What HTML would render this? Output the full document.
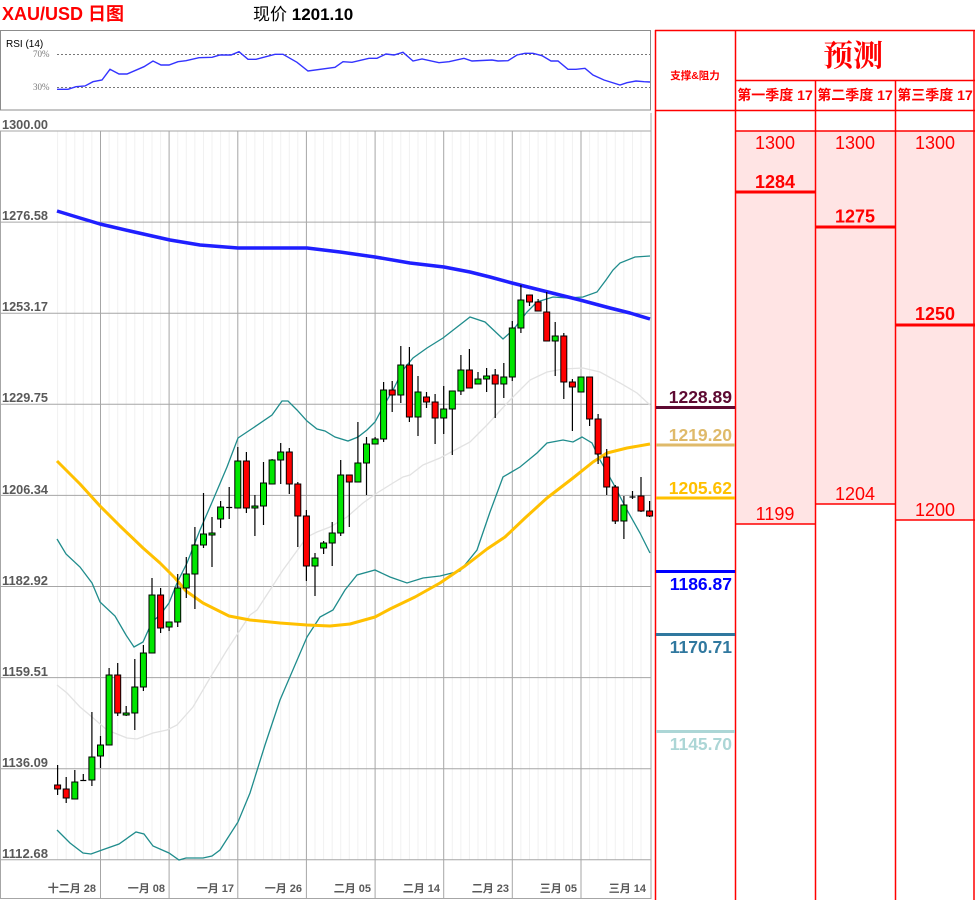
<!DOCTYPE html>
<html><head><meta charset="utf-8"><style>
html,body{margin:0;padding:0;background:#fff;}
svg{display:block;}
.g{fill:#00e600;stroke:#000;stroke-width:1}
.r{fill:#ff0000;stroke:#000;stroke-width:1}
.w line{stroke:#000;stroke-width:1.2}
.yl{font-family:"Liberation Sans",sans-serif;font-size:13px;font-weight:bold;fill:#595959}
.xl{font-family:"Liberation Sans","Noto Sans CJK SC",sans-serif;font-size:11px;font-weight:bold;fill:#595959}
.sr{font-family:"Liberation Sans",sans-serif;font-size:17.5px;font-weight:bold;text-anchor:end}
.fc{font-family:"Liberation Sans",sans-serif;font-size:18px;fill:#ff0000;text-anchor:middle}
.fb{font-family:"Liberation Sans",sans-serif;font-size:18px;font-weight:bold;fill:#ff0000;text-anchor:middle}
.qh{font-family:"Liberation Sans","Noto Sans CJK SC",sans-serif;font-size:14px;font-weight:bold;fill:#ff0000;text-anchor:middle}
</style></head><body>
<svg width="975" height="900" viewBox="0 0 975 900" xmlns="http://www.w3.org/2000/svg">
<rect width="975" height="900" fill="#fff"/>

<!-- Header -->
<text x="2" y="20" font-family="Liberation Sans,'Noto Sans CJK SC',sans-serif" font-size="18" font-weight="bold" fill="#ff0000">XAU/USD 日图</text>
<text x="253" y="20" font-family="Liberation Sans,'Noto Sans CJK SC',sans-serif" font-size="17" fill="#000">现价 <tspan font-weight="bold">1201.10</tspan></text>

<!-- RSI panel -->
<rect x="0.5" y="30.5" width="650" height="79.5" fill="#fff" stroke="#8c8c8c" stroke-width="1"/>
<text x="6" y="47" font-family="Liberation Sans,sans-serif" font-size="10" fill="#000">RSI (14)</text>
<text x="33" y="57" font-family="Liberation Serif,serif" font-size="9" fill="#777">70%</text>
<text x="33" y="90" font-family="Liberation Serif,serif" font-size="9" fill="#777">30%</text>
<line x1="57" y1="54.5" x2="650" y2="54.5" stroke="#777" stroke-width="1" stroke-dasharray="2,2"/>
<line x1="57" y1="87.5" x2="650" y2="87.5" stroke="#777" stroke-width="1" stroke-dasharray="2,2"/>
<polyline fill="none" stroke="#3333ff" stroke-width="1.4" points="57,89.3 68,89.3 76,86.7 85,86 93,81.7 102,80 110,69.3 119,74 127,74 144,66.7 153,61 161,65 169,65 178,61.7 186,60.7 199,57.7 212,57.3 220,55 231,55 239,51.7 248,59.3 256,59.3 275,54.3 283,54.3 297,62.3 308,71 335,67.3 343,61.7 352,62.3 369,58.3 377,58.3 386,54 394,55 403,52.3 413,61 422,59 439,62.7 449,61.7 464,58.3 472,61 492,60 498,61 508,60.7 517,55 525,53.3 533,53.3 542,55.7 551,61 558,61 568,69.3 576,69.3 585,68.3 593,75 604,80 620,85 627,82.7 636,81 644,81.7 650,82"/>

<!-- minor vertical lines -->
<g stroke="#f1f1f1" stroke-width="1">
<line x1="57.6" y1="131" x2="57.6" y2="860"/><line x1="66.2" y1="131" x2="66.2" y2="860"/><line x1="74.8" y1="131" x2="74.8" y2="860"/><line x1="83.3" y1="131" x2="83.3" y2="860"/><line x1="91.9" y1="131" x2="91.9" y2="860"/>
<line x1="109.1" y1="131" x2="109.1" y2="860"/><line x1="117.7" y1="131" x2="117.7" y2="860"/><line x1="126.2" y1="131" x2="126.2" y2="860"/><line x1="134.8" y1="131" x2="134.8" y2="860"/><line x1="143.4" y1="131" x2="143.4" y2="860"/><line x1="152" y1="131" x2="152" y2="860"/><line x1="160.6" y1="131" x2="160.6" y2="860"/>
<line x1="177.7" y1="131" x2="177.7" y2="860"/><line x1="186.3" y1="131" x2="186.3" y2="860"/><line x1="194.9" y1="131" x2="194.9" y2="860"/><line x1="203.5" y1="131" x2="203.5" y2="860"/><line x1="212" y1="131" x2="212" y2="860"/><line x1="220.6" y1="131" x2="220.6" y2="860"/><line x1="229.2" y1="131" x2="229.2" y2="860"/>
<line x1="246.4" y1="131" x2="246.4" y2="860"/><line x1="254.9" y1="131" x2="254.9" y2="860"/><line x1="263.5" y1="131" x2="263.5" y2="860"/><line x1="272.1" y1="131" x2="272.1" y2="860"/><line x1="280.7" y1="131" x2="280.7" y2="860"/><line x1="289.3" y1="131" x2="289.3" y2="860"/><line x1="297.8" y1="131" x2="297.8" y2="860"/>
<line x1="315" y1="131" x2="315" y2="860"/><line x1="323.6" y1="131" x2="323.6" y2="860"/><line x1="332.2" y1="131" x2="332.2" y2="860"/><line x1="340.7" y1="131" x2="340.7" y2="860"/><line x1="349.3" y1="131" x2="349.3" y2="860"/><line x1="357.9" y1="131" x2="357.9" y2="860"/><line x1="366.5" y1="131" x2="366.5" y2="860"/>
<line x1="383.6" y1="131" x2="383.6" y2="860"/><line x1="392.2" y1="131" x2="392.2" y2="860"/><line x1="400.8" y1="131" x2="400.8" y2="860"/><line x1="409.4" y1="131" x2="409.4" y2="860"/><line x1="418" y1="131" x2="418" y2="860"/><line x1="426.5" y1="131" x2="426.5" y2="860"/><line x1="435.1" y1="131" x2="435.1" y2="860"/>
<line x1="452.3" y1="131" x2="452.3" y2="860"/><line x1="460.9" y1="131" x2="460.9" y2="860"/><line x1="469.4" y1="131" x2="469.4" y2="860"/><line x1="478" y1="131" x2="478" y2="860"/><line x1="486.6" y1="131" x2="486.6" y2="860"/><line x1="495.2" y1="131" x2="495.2" y2="860"/><line x1="503.8" y1="131" x2="503.8" y2="860"/>
<line x1="520.9" y1="131" x2="520.9" y2="860"/><line x1="529.5" y1="131" x2="529.5" y2="860"/><line x1="538.1" y1="131" x2="538.1" y2="860"/><line x1="546.7" y1="131" x2="546.7" y2="860"/><line x1="555.2" y1="131" x2="555.2" y2="860"/><line x1="563.8" y1="131" x2="563.8" y2="860"/><line x1="572.4" y1="131" x2="572.4" y2="860"/>
<line x1="589.6" y1="131" x2="589.6" y2="860"/><line x1="598.1" y1="131" x2="598.1" y2="860"/><line x1="606.7" y1="131" x2="606.7" y2="860"/><line x1="615.3" y1="131" x2="615.3" y2="860"/><line x1="623.9" y1="131" x2="623.9" y2="860"/><line x1="632.5" y1="131" x2="632.5" y2="860"/><line x1="641" y1="131" x2="641" y2="860"/>
</g>

<!-- major gridlines -->
<g stroke="#a6a6a6" stroke-width="1">
<line x1="0" y1="131" x2="651" y2="131"/>
<line x1="0" y1="222.1" x2="651" y2="222.1"/>
<line x1="0" y1="313.2" x2="651" y2="313.2"/>
<line x1="0" y1="404.3" x2="651" y2="404.3"/>
<line x1="0" y1="495.4" x2="651" y2="495.4"/>
<line x1="0" y1="586.5" x2="651" y2="586.5"/>
<line x1="0" y1="677.6" x2="651" y2="677.6"/>
<line x1="0" y1="768.7" x2="651" y2="768.7"/>
<line x1="0" y1="859.8" x2="651" y2="859.8"/>
<line x1="100.5" y1="131" x2="100.5" y2="899"/>
<line x1="169.1" y1="131" x2="169.1" y2="899"/>
<line x1="237.8" y1="131" x2="237.8" y2="899"/>
<line x1="306.4" y1="131" x2="306.4" y2="899"/>
<line x1="375.1" y1="131" x2="375.1" y2="899"/>
<line x1="443.7" y1="131" x2="443.7" y2="899"/>
<line x1="512.3" y1="131" x2="512.3" y2="899"/>
<line x1="581" y1="131" x2="581" y2="899"/>
<line x1="0.5" y1="131" x2="0.5" y2="899"/>
<line x1="651" y1="113" x2="651" y2="899"/>
<line x1="0" y1="898.5" x2="651" y2="898.5"/>
</g>

<!-- y labels -->
<text class="yl" x="2" y="129" textLength="46" lengthAdjust="spacingAndGlyphs">1300.00</text>
<text class="yl" x="2" y="220" textLength="46" lengthAdjust="spacingAndGlyphs">1276.58</text>
<text class="yl" x="2" y="311" textLength="46" lengthAdjust="spacingAndGlyphs">1253.17</text>
<text class="yl" x="2" y="402" textLength="46" lengthAdjust="spacingAndGlyphs">1229.75</text>
<text class="yl" x="2" y="494" textLength="46" lengthAdjust="spacingAndGlyphs">1206.34</text>
<text class="yl" x="2" y="585" textLength="46" lengthAdjust="spacingAndGlyphs">1182.92</text>
<text class="yl" x="2" y="676" textLength="46" lengthAdjust="spacingAndGlyphs">1159.51</text>
<text class="yl" x="2" y="767" textLength="46" lengthAdjust="spacingAndGlyphs">1136.09</text>
<text class="yl" x="2" y="858" textLength="46" lengthAdjust="spacingAndGlyphs">1112.68</text>

<!-- x labels -->
<g class="xl" text-anchor="end">
<text x="96" y="892">十二月 28</text>
<text x="165" y="892">一月 08</text>
<text x="234" y="892">一月 17</text>
<text x="302" y="892">一月 26</text>
<text x="371" y="892">二月 05</text>
<text x="440" y="892">二月 14</text>
<text x="509" y="892">二月 23</text>
<text x="577" y="892">三月 05</text>
<text x="646" y="892">三月 14</text>
</g>

<!-- Bollinger middle -->
<polyline fill="none" stroke="#e2e2e2" stroke-width="1.3" points="57,685 67,693 80,707 92,717 107,730 127,738 137,739 153,733 167,730 177,725 193,707 210,678 227,650 250,615 257,610 283,570 307,537 317,532 330,527 347,517 363,503 377,493 393,483 403,477 410,475 423,465 440,458 470,442 487,425 510,400 530,380 547,372 563,369 583,368 600,372 620,383 637,393 650,405"/>
<!-- Bollinger upper -->
<polyline fill="none" stroke="#1f8c8c" stroke-width="1.3" points="57,539 66,554 80,567 92,583 100,602 115,616 126,635 134,647 143,642 152,622 160,615 169,603 177,583 187,563 200,530 213,500 227,467 238,438 253,428 272,415 282,401 288,401 297,410 307,421 317,429 325,431 335,437 348,441 358,437 367,430 375,422 383,407 393,390 403,370 413,358 427,348 443,338 470,317 485,322 503,339 513,330 527,312 537,302 553,297 567,298 583,297 597,292 606,280 613,270 620,263 635,257 650,256"/>
<!-- Bollinger lower -->
<polyline fill="none" stroke="#1f8c8c" stroke-width="1.3" points="57,830 70,843 83,853 91,854 102,850 119,844 136,832 144,834 153,846 169,853 179,860 186,858 203,858 212,856 220,850 238,822 250,793 265,745 280,700 295,665 307,637 320,617 333,610 345,590 357,575 375,570 390,577 407,583 423,578 440,576 460,571 477,550 490,512 503,477 520,467 537,453 547,443 563,440 573,442 582,437 592,443 600,460 613,483 627,510 640,533 650,553"/>
<!-- MA blue -->
<polyline fill="none" stroke="#1f1fff" stroke-width="3.5" stroke-linejoin="round" points="57,211 80,218 100,224 130,231 170,240 200,245 238,248 270,248 307,248 340,252 375,257 410,263 444,267 470,272 490,277 512,283 540,290 560,295 580,300 610,308 630,313 650,319"/>
<!-- MA gold -->
<polyline fill="none" stroke="#ffc000" stroke-width="3" stroke-linejoin="round" points="57,461 80,484 100,506 120,526 143,548 160,563 175,578 186,591 203,603 229,616 250,620 280,623 307,625 330,626 350,624 375,617 390,609 415,597 440,583 465,566 487,549 505,537 525,518 547,498 573,478 593,462 607,453 627,448 650,444"/>

<!-- Candles -->
<g class="w">
<line x1="57.6" y1="765" x2="57.6" y2="795"/><line x1="66.2" y1="777" x2="66.2" y2="803"/><line x1="74.8" y1="770" x2="74.8" y2="799"/><line x1="83.3" y1="774" x2="83.3" y2="781"/><line x1="80.3" y1="780.5" x2="86.3" y2="780.5"/>
<line x1="91.9" y1="712" x2="91.9" y2="786"/><line x1="100.5" y1="736" x2="100.5" y2="768"/><line x1="109.1" y1="668" x2="109.1" y2="745"/><line x1="117.7" y1="663" x2="117.7" y2="716"/><line x1="126.2" y1="706" x2="126.2" y2="716"/>
<line x1="134.8" y1="659" x2="134.8" y2="730"/><line x1="143.4" y1="645" x2="143.4" y2="691"/><line x1="152" y1="578" x2="152" y2="653"/><line x1="160.6" y1="588" x2="160.6" y2="633"/><line x1="169.1" y1="622" x2="169.1" y2="631"/>
<line x1="177.7" y1="574" x2="177.7" y2="627"/><line x1="186.3" y1="557" x2="186.3" y2="598"/><line x1="194.9" y1="527" x2="194.9" y2="609"/><line x1="203.5" y1="493" x2="203.5" y2="548"/><line x1="212" y1="517" x2="212" y2="567"/>
<line x1="220.6" y1="501" x2="220.6" y2="528"/><line x1="229.2" y1="487" x2="229.2" y2="519"/><line x1="226.2" y1="507.5" x2="232.2" y2="507.5"/><line x1="237.8" y1="447" x2="237.8" y2="508"/><line x1="246.4" y1="452" x2="246.4" y2="513"/>
<line x1="254.9" y1="495" x2="254.9" y2="536"/><line x1="263.5" y1="462" x2="263.5" y2="525"/><line x1="272.1" y1="459" x2="272.1" y2="484"/><line x1="280.7" y1="443" x2="280.7" y2="484"/><line x1="289.3" y1="448" x2="289.3" y2="494"/>
<line x1="297.8" y1="482" x2="297.8" y2="547"/><line x1="306.4" y1="510" x2="306.4" y2="581"/><line x1="315" y1="553" x2="315" y2="596"/><line x1="323.6" y1="541" x2="323.6" y2="554"/><line x1="332.2" y1="522" x2="332.2" y2="566"/>
<line x1="340.7" y1="460" x2="340.7" y2="536"/><line x1="349.3" y1="475" x2="349.3" y2="527"/><line x1="357.9" y1="422" x2="357.9" y2="482"/><line x1="366.5" y1="437" x2="366.5" y2="495"/><line x1="375.1" y1="437" x2="375.1" y2="444"/>
<line x1="383.6" y1="382" x2="383.6" y2="442"/><line x1="392.2" y1="381" x2="392.2" y2="412"/><line x1="400.8" y1="346" x2="400.8" y2="403"/><line x1="409.4" y1="347" x2="409.4" y2="422"/><line x1="418" y1="376" x2="418" y2="436"/>
<line x1="426.5" y1="392" x2="426.5" y2="408"/><line x1="435.1" y1="394" x2="435.1" y2="444"/><line x1="443.7" y1="386" x2="443.7" y2="434"/><line x1="452.3" y1="391" x2="452.3" y2="455"/><line x1="460.9" y1="355" x2="460.9" y2="395"/>
<line x1="469.4" y1="349" x2="469.4" y2="388"/><line x1="478" y1="372" x2="478" y2="384"/><line x1="486.6" y1="368" x2="486.6" y2="392"/><line x1="495.2" y1="369" x2="495.2" y2="418"/><line x1="503.8" y1="363" x2="503.8" y2="398"/>
<line x1="512.3" y1="321" x2="512.3" y2="381"/><line x1="520.9" y1="285" x2="520.9" y2="333"/><line x1="529.5" y1="295" x2="529.5" y2="306"/><line x1="538.1" y1="299" x2="538.1" y2="311"/><line x1="546.7" y1="292" x2="546.7" y2="341"/>
<line x1="555.2" y1="322" x2="555.2" y2="376"/><line x1="563.8" y1="333" x2="563.8" y2="399"/><line x1="572.4" y1="379" x2="572.4" y2="431"/><line x1="581" y1="377" x2="581" y2="392"/><line x1="589.6" y1="377" x2="589.6" y2="426"/>
<line x1="598.1" y1="414" x2="598.1" y2="464"/><line x1="606.7" y1="449" x2="606.7" y2="495"/><line x1="615.3" y1="485" x2="615.3" y2="524"/><line x1="623.9" y1="496" x2="623.9" y2="539"/><line x1="632.5" y1="491" x2="632.5" y2="499"/><line x1="629.5" y1="497" x2="635.5" y2="497"/>
<line x1="641" y1="477" x2="641" y2="512"/><line x1="649.6" y1="501" x2="649.6" y2="517"/>
</g>
<g>
<rect class="r" x="54.6" y="785" width="6" height="4"/>
<rect class="r" x="63.2" y="789" width="6" height="9"/>
<rect class="g" x="71.8" y="782" width="6" height="17"/>
<rect class="g" x="88.9" y="757" width="6" height="23"/>
<rect class="g" x="97.5" y="745" width="6" height="11"/>
<rect class="g" x="106.1" y="675" width="6" height="70"/>
<rect class="r" x="114.7" y="675" width="6" height="38"/>
<rect class="g" x="123.2" y="713" width="6" height="2"/>
<rect class="g" x="131.8" y="687" width="6" height="26"/>
<rect class="g" x="140.4" y="653" width="6" height="34"/>
<rect class="g" x="149" y="595" width="6" height="58"/>
<rect class="r" x="157.6" y="595" width="6" height="33"/>
<rect class="g" x="166.1" y="622" width="6" height="5"/>
<rect class="g" x="174.7" y="588" width="6" height="34"/>
<rect class="g" x="183.3" y="574" width="6" height="14"/>
<rect class="g" x="191.9" y="545" width="6" height="29"/>
<rect class="g" x="200.5" y="534" width="6" height="11"/>
<rect class="g" x="209" y="533" width="6" height="2"/>
<rect class="g" x="217.6" y="507" width="6" height="12"/>
<rect class="g" x="234.8" y="461" width="6" height="47"/>
<rect class="r" x="243.4" y="461" width="6" height="47"/>
<rect class="g" x="251.9" y="506" width="6" height="2"/>
<rect class="g" x="260.5" y="483" width="6" height="23"/>
<rect class="g" x="269.1" y="460" width="6" height="24"/>
<rect class="g" x="277.7" y="452" width="6" height="8"/>
<rect class="r" x="286.3" y="452" width="6" height="32"/>
<rect class="r" x="294.8" y="484" width="6" height="32"/>
<rect class="r" x="303.4" y="516" width="6" height="50"/>
<rect class="g" x="312" y="558" width="6" height="8"/>
<rect class="g" x="320.6" y="543" width="6" height="5"/>
<rect class="g" x="329.2" y="533" width="6" height="10"/>
<rect class="g" x="337.7" y="475" width="6" height="58"/>
<rect class="r" x="346.3" y="475" width="6" height="7"/>
<rect class="g" x="354.9" y="463" width="6" height="19"/>
<rect class="g" x="363.5" y="444" width="6" height="19"/>
<rect class="g" x="372.1" y="439" width="6" height="5"/>
<rect class="g" x="380.6" y="390" width="6" height="49"/>
<rect class="r" x="389.2" y="390" width="6" height="5"/>
<rect class="g" x="397.8" y="365" width="6" height="30"/>
<rect class="r" x="406.4" y="365" width="6" height="52"/>
<rect class="g" x="415" y="392" width="6" height="25"/>
<rect class="r" x="423.5" y="397" width="6" height="5"/>
<rect class="r" x="432.1" y="402" width="6" height="16"/>
<rect class="g" x="440.7" y="409" width="6" height="9"/>
<rect class="g" x="449.3" y="391" width="6" height="18"/>
<rect class="g" x="457.9" y="370" width="6" height="21"/>
<rect class="r" x="466.4" y="370" width="6" height="18"/>
<rect class="g" x="475" y="379" width="6" height="5"/>
<rect class="g" x="483.6" y="376" width="6" height="3"/>
<rect class="r" x="492.2" y="375" width="6" height="9"/>
<rect class="g" x="500.8" y="377" width="6" height="7"/>
<rect class="g" x="509.3" y="328" width="6" height="49"/>
<rect class="g" x="517.9" y="300" width="6" height="28"/>
<rect class="r" x="526.5" y="295" width="6" height="7"/>
<rect class="r" x="535.1" y="302" width="6" height="9"/>
<rect class="r" x="543.7" y="312" width="6" height="29"/>
<rect class="g" x="552.2" y="336" width="6" height="5"/>
<rect class="r" x="560.8" y="336" width="6" height="46"/>
<rect class="r" x="569.4" y="382" width="6" height="5"/>
<rect class="g" x="578" y="377" width="6" height="15"/>
<rect class="r" x="586.6" y="377" width="6" height="42"/>
<rect class="r" x="595.1" y="419" width="6" height="35"/>
<rect class="r" x="603.7" y="457" width="6" height="30"/>
<rect class="r" x="612.3" y="487" width="6" height="34"/>
<rect class="g" x="620.9" y="505" width="6" height="16"/>
<rect class="r" x="638" y="496" width="6" height="15"/>
<rect class="r" x="646.6" y="511" width="6" height="5"/>
</g>

<!-- Right table -->
<rect x="735" y="131" width="80" height="393" fill="#ffe4e4"/>
<rect x="815" y="131" width="80" height="373" fill="#ffe4e4"/>
<rect x="895" y="131" width="80" height="389" fill="#ffe4e4"/>
<g stroke="#ff0000" stroke-width="1.5">
<line x1="655.5" y1="30" x2="655.5" y2="900"/>
<line x1="735.5" y1="30" x2="735.5" y2="900"/>
<line x1="815.5" y1="80" x2="815.5" y2="900"/>
<line x1="895.5" y1="80" x2="895.5" y2="900"/>
<line x1="974" y1="30" x2="974" y2="900"/>
<line x1="655" y1="30.5" x2="975" y2="30.5"/>
<line x1="735" y1="80.5" x2="975" y2="80.5"/>
<line x1="655" y1="110.5" x2="975" y2="110.5"/>
<line x1="735" y1="131" x2="975" y2="131"/>
<line x1="735" y1="524" x2="815" y2="524"/>
<line x1="815" y1="504" x2="895" y2="504"/>
<line x1="895" y1="520" x2="975" y2="520"/>
</g>
<g stroke="#ff0000" stroke-width="3">
<line x1="735" y1="192" x2="815" y2="192"/>
<line x1="815" y1="227" x2="895" y2="227"/>
<line x1="895" y1="325" x2="975" y2="325"/>
</g>
<text x="695" y="79" text-anchor="middle" font-family="Liberation Sans,'Noto Sans CJK SC',sans-serif" font-size="10.5" font-weight="bold" fill="#ff0000">支撑&amp;阻力</text>
<text x="853" y="66" text-anchor="middle" font-family="'Noto Serif CJK SC',serif" font-size="30" font-weight="bold" fill="#ff0000">预测</text>
<text class="qh" x="775" y="100">第一季度 17</text>
<text class="qh" x="855" y="100">第二季度 17</text>
<text class="qh" x="935" y="100">第三季度 17</text>

<text class="fc" x="775" y="149">1300</text>
<text class="fc" x="855" y="149">1300</text>
<text class="fc" x="935" y="149">1300</text>
<text class="fb" x="775" y="188">1284</text>
<text class="fb" x="855" y="222.5">1275</text>
<text class="fb" x="935" y="320">1250</text>
<text class="fc" x="775" y="520">1199</text>
<text class="fc" x="855" y="500">1204</text>
<text class="fc" x="935" y="516">1200</text>

<!-- Support & resistance -->
<g stroke-width="3">
<line x1="656" y1="407.5" x2="735" y2="407.5" stroke="#5e0a32"/>
<line x1="656" y1="445" x2="735" y2="445" stroke="#dfba6a"/>
<line x1="656" y1="498" x2="735" y2="498" stroke="#ffc000"/>
<line x1="656" y1="571.5" x2="735" y2="571.5" stroke="#0000ff"/>
<line x1="656" y1="634.5" x2="735" y2="634.5" stroke="#30789f"/>
<line x1="656" y1="731.5" x2="735" y2="731.5" stroke="#acd6d6"/>
</g>
<text class="sr" x="732" y="403" fill="#5e0a32">1228.89</text>
<text class="sr" x="732" y="441" fill="#dfba6a">1219.20</text>
<text class="sr" x="732" y="494" fill="#ffc000">1205.62</text>
<text class="sr" x="732" y="590" fill="#0000ff">1186.87</text>
<text class="sr" x="732" y="653" fill="#30789f">1170.71</text>
<text class="sr" x="732" y="750" fill="#acd6d6">1145.70</text>
</svg>
</body></html>
